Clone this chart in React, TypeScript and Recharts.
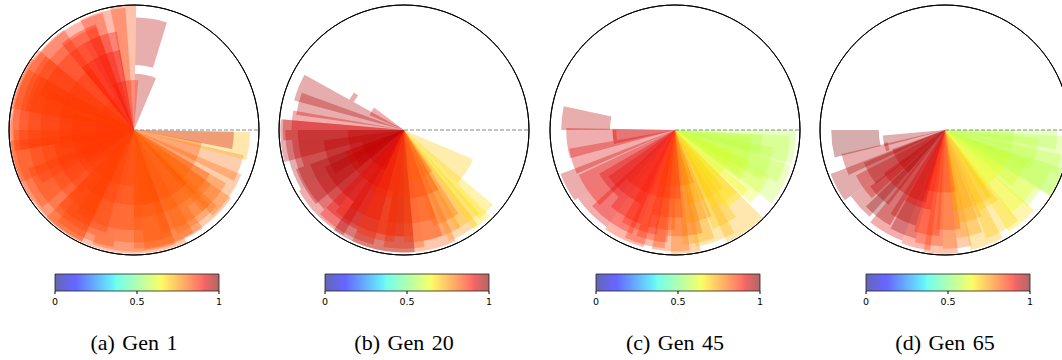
import { PieChart, Pie, Cell, PolarRadiusAxis, BarChart, Bar, XAxis, YAxis } from 'recharts'

// Each wedge is a polar bar: centre angle (deg), angular width (deg),
// inner/outer radius (0..1 of the plot radius) and a colour value 0..1 (jet).

// (a) Gen 1
const gen1Theta = [180, 215, 150, 250, 125, 200, 160, 230, 180, 140, 270, 290, 310, 325, 340, 352, 354, 105, 95, 81, 78, 115, 300, 200, 240, 170, 260, 330, 100, 285, 190, 165, 225, 195, 140, 255, 275, 120, 210, 180, 245, 300, 315, 155, 230, 110, 285, 305, 320, 295]
const gen1Width = [70, 60, 50, 50, 40, 90, 70, 80, 120, 60, 40, 30, 30, 25, 14, 14, 10, 22, 12, 16, 22, 30, 60, 40, 30, 40, 60, 40, 30, 20, 30, 50, 50, 60, 40, 40, 30, 20, 40, 60, 30, 30, 20, 30, 30, 20, 30, 25, 20, 40]
const gen1Bottom = [0, 0, 0, 0, 0, 0, 0, 0, 0, 0, 0, 0, 0, 0, 0, 0, 0, 0, 0, 0.52, 0, 0, 0, 0, 0, 0, 0, 0, 0, 0, 0, 0, 0, 0, 0, 0, 0, 0, 0, 0, 0, 0, 0, 0, 0, 0, 0, 0, 0, 0]
const gen1Top = [1.0, 0.99, 0.98, 0.99, 0.97, 0.75, 0.6, 0.45, 0.3, 0.88, 0.97, 0.96, 0.95, 0.93, 0.9, 0.93, 0.8, 0.98, 1.0, 0.9, 0.45, 0.65, 0.7, 0.96, 0.85, 0.97, 0.6, 0.55, 0.4, 0.99, 0.99, 0.92, 0.9, 0.5, 0.8, 0.8, 0.9, 0.9, 0.65, 0.85, 0.95, 0.85, 0.75, 0.99, 0.98, 0.8, 0.95, 0.9, 0.85, 0.6]
const gen1Value = [0.85, 0.84, 0.85, 0.84, 0.87, 0.85, 0.86, 0.85, 0.85, 0.85, 0.83, 0.82, 0.81, 0.8, 0.8, 0.72, 0.93, 0.86, 0.84, 0.95, 0.95, 0.9, 0.83, 0.84, 0.85, 0.85, 0.85, 0.82, 0.88, 0.82, 0.84, 0.86, 0.85, 0.86, 0.87, 0.84, 0.83, 0.88, 0.86, 0.85, 0.84, 0.82, 0.8, 0.84, 0.84, 0.9, 0.82, 0.8, 0.8, 0.83]

// (b) Gen 20
const gen20Theta = [158, 166, 147, 185, 195, 205, 215, 200, 225, 240, 250, 230, 260, 270, 275, 285, 290, 300, 305, 315, 326, 310, 255, 180, 270, 220, 290, 190, 210, 220, 235, 245, 255, 265, 280, 295, 200, 175, 150]
const gen20Width = [14, 12, 8, 20, 30, 40, 30, 25, 30, 30, 40, 60, 30, 20, 30, 20, 20, 16, 14, 10, 22, 10, 40, 10, 60, 50, 30, 20, 20, 30, 20, 20, 20, 20, 20, 16, 40, 10, 14]
const gen20Bottom = [0, 0, 0.46, 0, 0, 0, 0, 0, 0, 0, 0, 0, 0, 0, 0, 0, 0, 0, 0, 0, 0, 0, 0, 0, 0, 0, 0, 0, 0, 0, 0, 0, 0, 0, 0, 0, 0, 0, 0]
const gen20Top = [0.91, 0.87, 0.5, 0.99, 0.95, 0.9, 0.8, 0.65, 0.97, 0.95, 0.85, 0.5, 0.98, 0.95, 0.75, 0.98, 0.9, 0.96, 0.9, 0.93, 0.6, 0.97, 0.98, 0.97, 0.55, 0.35, 0.4, 0.85, 0.92, 0.7, 0.88, 0.75, 0.9, 0.85, 0.9, 0.8, 0.45, 0.9, 0.3]
const gen20Value = [0.96, 0.95, 0.95, 0.95, 0.96, 0.94, 0.96, 0.95, 0.93, 0.9, 0.88, 0.9, 0.86, 0.85, 0.84, 0.82, 0.8, 0.76, 0.72, 0.68, 0.7, 0.67, 0.98, 0.93, 0.85, 0.93, 0.8, 0.95, 0.96, 0.95, 0.92, 0.9, 0.87, 0.86, 0.84, 0.8, 0.94, 0.92, 0.93]

// (c) Gen 45
const gen45Theta = [174, 186, 187, 197, 208, 185, 215, 225, 235, 245, 255, 262, 268, 275, 282, 290, 298, 305, 312, 325, 333, 345, 352, 340, 250, 230, 270, 320, 295, 240, 258, 265, 275, 285, 220, 250, 305, 340, 350, 330]
const gen45Width = [12, 14, 16, 14, 14, 10, 20, 20, 25, 20, 20, 16, 18, 14, 16, 20, 14, 20, 18, 18, 20, 24, 16, 30, 50, 30, 40, 40, 30, 20, 16, 20, 20, 16, 20, 20, 20, 20, 14, 16]
const gen45Bottom = [0.52, 0, 0, 0, 0, 0.47, 0, 0, 0, 0, 0, 0, 0, 0, 0, 0, 0, 0, 0, 0, 0, 0, 0, 0, 0, 0, 0, 0, 0, 0, 0, 0, 0, 0, 0, 0, 0, 0, 0, 0]
const gen45Top = [0.91, 0.5, 0.87, 0.86, 0.98, 0.5, 0.85, 0.95, 0.9, 0.97, 0.95, 0.8, 0.97, 0.99, 0.92, 0.95, 0.85, 0.99, 0.75, 0.84, 0.97, 0.92, 0.97, 0.62, 0.55, 0.65, 0.45, 0.5, 0.6, 0.8, 0.9, 0.7, 0.85, 0.75, 0.7, 0.85, 0.7, 0.8, 0.7, 0.65]
const gen45Value = [0.95, 0.93, 0.93, 0.92, 0.94, 0.9, 0.9, 0.92, 0.9, 0.88, 0.86, 0.85, 0.83, 0.78, 0.75, 0.72, 0.7, 0.72, 0.66, 0.63, 0.58, 0.58, 0.57, 0.6, 0.87, 0.9, 0.82, 0.62, 0.7, 0.9, 0.86, 0.85, 0.82, 0.76, 0.92, 0.88, 0.68, 0.58, 0.57, 0.6]

// (d) Gen 65
const gen65Theta = [187, 190, 199, 208, 215, 222, 232, 240, 248, 256, 262, 268, 276, 283, 290, 300, 310, 318, 328, 338, 348, 355, 352, 235, 265, 320, 215, 290, 196, 225, 245, 260, 272, 285, 300, 330, 345, 250, 210, 335]
const gen65Width = [14, 10, 12, 14, 16, 14, 16, 18, 14, 14, 14, 16, 14, 14, 16, 18, 16, 20, 22, 20, 18, 10, 16, 40, 30, 40, 30, 30, 8, 16, 16, 14, 14, 16, 14, 20, 20, 20, 16, 14]
const gen65Bottom = [0.53, 0, 0, 0, 0, 0, 0, 0, 0, 0, 0, 0, 0, 0, 0, 0, 0, 0, 0, 0, 0, 0, 0, 0, 0, 0, 0, 0, 0.47, 0, 0, 0, 0, 0, 0, 0, 0, 0, 0, 0]
const gen65Top = [0.91, 0.5, 0.85, 0.98, 0.8, 0.92, 0.88, 0.95, 0.9, 0.97, 0.93, 0.99, 0.95, 0.87, 0.98, 0.93, 0.96, 0.85, 0.9, 0.99, 0.95, 0.9, 0.55, 0.6, 0.5, 0.55, 0.45, 0.65, 0.5, 0.75, 0.8, 0.85, 0.8, 0.75, 0.7, 0.7, 0.75, 0.65, 0.7, 1.0]
const gen65Value = [1.0, 0.97, 0.95, 0.97, 0.93, 0.95, 1.0, 0.92, 0.98, 0.88, 0.86, 0.84, 0.8, 0.76, 0.72, 0.7, 0.67, 0.63, 0.6, 0.57, 0.58, 0.56, 0.57, 0.93, 0.87, 0.63, 0.95, 0.72, 0.95, 0.96, 0.95, 0.87, 0.83, 0.74, 0.7, 0.6, 0.58, 0.9, 0.96, 0.57]

const captions = ['(a) Gen 1', '(b) Gen 20', '(c) Gen 45', '(d) Gen 65']
const cbTicks = [0, 0.5, 1]
const cbTickLabels = ['0', '0.5', '1']

const panels = [
  { theta: gen1Theta, width: gen1Width, bottom: gen1Bottom, top: gen1Top, value: gen1Value },
  { theta: gen20Theta, width: gen20Width, bottom: gen20Bottom, top: gen20Top, value: gen20Value },
  { theta: gen45Theta, width: gen45Width, bottom: gen45Bottom, top: gen45Top, value: gen45Value },
  { theta: gen65Theta, width: gen65Width, bottom: gen65Bottom, top: gen65Top, value: gen65Value },
]

const CENTERS = [134, 404, 675, 945]
const CY = 130
const R = 125
const WEDGE_ALPHA = 0.32

// matplotlib 'jet' segment data
const JET_R = [[0, 0], [0.35, 0], [0.66, 1], [0.89, 1], [1, 0.5]]
const JET_G = [[0, 0], [0.125, 0], [0.375, 1], [0.64, 1], [0.91, 0], [1, 0]]
const JET_B = [[0, 0.5], [0.11, 1], [0.34, 1], [0.65, 0], [1, 0]]
const JET_STOPS = [0, 0.11, 0.125, 0.34, 0.35, 0.375, 0.5, 0.64, 0.65, 0.66, 0.89, 0.91, 1]

function seg(pts: number[][], v: number) {
  for (let i = 1; i < pts.length; i++) {
    const [x0, y0] = pts[i - 1]
    const [x1, y1] = pts[i]
    if (v <= x1) return y0 + ((v - x0) / (x1 - x0)) * (y1 - y0)
  }
  return pts[pts.length - 1][1]
}

function jet(v: number) {
  const c = (p: number[][]) => Math.round(seg(p, v) * 255)
  return `rgb(${c(JET_R)},${c(JET_G)},${c(JET_B)})`
}

// pad the wedge with empty slices so the pie places it at its angle
function wedgeData(theta: number, width: number) {
  const lo = (((theta - width / 2) % 360) + 360) % 360
  const hi = lo + width
  if (hi <= 360) {
    return [
      { v: lo, on: false },
      { v: width, on: true },
      { v: 360 - hi, on: false },
    ]
  }
  const e = hi - 360
  return [
    { v: e, on: true },
    { v: lo - e, on: false },
    { v: 360 - lo, on: true },
  ]
}

function PolarPanel({ idx }: { idx: number }) {
  const p = panels[idx]
  const size = 2 * R + 4
  return (
    <div style={{ position: 'absolute', left: CENTERS[idx] - size / 2, top: CY - size / 2 }}>
      <PieChart
        width={size}
        height={size}
        margin={{ top: 2, right: 2, bottom: 2, left: 2 }}
        innerRadius={0}
        outerRadius="100%"
      >
        {p.theta.map((t, i) => {
          const d = wedgeData(t, p.width[i])
          return (
            <Pie
              key={i}
              data={d}
              dataKey="v"
              cx="50%"
              cy="50%"
              startAngle={0}
              endAngle={360}
              innerRadius={`${p.bottom[i] * 100}%`}
              outerRadius={`${p.top[i] * 100}%`}
              stroke="none"
              strokeWidth={0}
              isAnimationActive={false}
            >
              {d.map((s, j) => (
                <Cell
                  key={j}
                  fill={s.on ? jet(p.value[i]) : '#fff'}
                  fillOpacity={s.on ? WEDGE_ALPHA : 0}
                  stroke="none"
                  strokeWidth={0}
                />
              ))}
            </Pie>
          )
        })}
        <PolarRadiusAxis
          angle={0}
          type="number"
          domain={[0, 1]}
          tick={false}
          stroke="#888"
          axisLine={{ stroke: '#888', strokeDasharray: '4 2', strokeWidth: 1 }}
        />
        <Pie
          data={[{ v: 1 }]}
          dataKey="v"
          cx="50%"
          cy="50%"
          startAngle={0}
          endAngle={360}
          innerRadius="100%"
          outerRadius="100%"
          fill="none"
          stroke="#000"
          strokeWidth={1}
          isAnimationActive={false}
        >
          <Cell fill="none" stroke="#000" />
        </Pie>
      </PieChart>
    </div>
  )
}

function ColorBar({ idx }: { idx: number }) {
  const gid = `jet-${idx}`
  return (
    <div style={{ position: 'absolute', left: CENTERS[idx] - 79 - 10, top: 273 }}>
      <BarChart
        width={184}
        height={40}
        data={[{ name: 'cb', v: 1 }]}
        layout="vertical"
        margin={{ top: 1, right: 10, bottom: 0, left: 10 }}
        barCategoryGap={0}
      >
        <defs>
          <linearGradient id={gid} x1="0" y1="0" x2="1" y2="0">
            {JET_STOPS.map((s) => (
              <stop key={s} offset={s} stopColor={jet(s)} stopOpacity={0.6} />
            ))}
          </linearGradient>
        </defs>
        <XAxis
          type="number"
          domain={[0, 1]}
          ticks={cbTicks}
          interval={0}
          tickFormatter={(v: number) => cbTickLabels[cbTicks.indexOf(v)]}
          tickSize={3}
          tickMargin={4}
          axisLine={false}
          tickLine={{ stroke: '#000' }}
          tick={{ fontSize: 9.5, fill: '#000', fontFamily: 'DejaVu Sans' }}
          height={22}
        />
        <YAxis type="category" dataKey="name" hide />
        <Bar dataKey="v" fill={`url(#${gid})`} stroke="#222" strokeWidth={0.8} isAnimationActive={false} />
      </BarChart>
    </div>
  )
}

export default function App() {
  return (
    <div
      style={{
        position: 'absolute',
        left: 0,
        top: 0,
        width: 1062,
        height: 360,
        background: '#fff',
        fontFamily: '"Liberation Serif", "Times New Roman", serif',
      }}
    >
      {captions.map((c, i) => (
        <div key={i}>
          <PolarPanel idx={i} />
          <ColorBar idx={i} />
          <div
            style={{
              position: 'absolute',
              left: CENTERS[i] - 80,
              width: 160,
              top: 331,
              textAlign: 'center',
              fontSize: 22,
              lineHeight: '24px',
              wordSpacing: 2,
            }}
          >
            {c}
          </div>
        </div>
      ))}
    </div>
  )
}
